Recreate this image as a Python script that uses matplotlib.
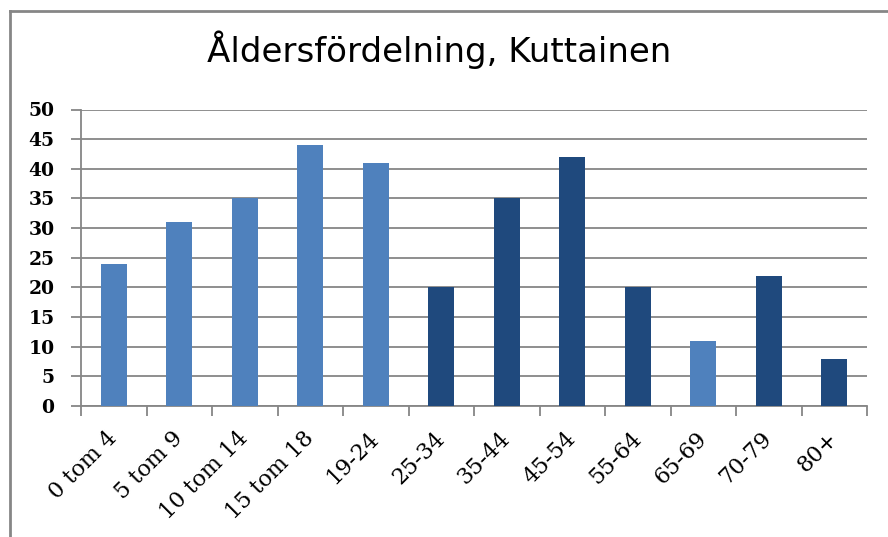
import matplotlib
matplotlib.use("Agg")
import numpy as np
from matplotlib import pyplot as plt
from matplotlib import transforms
from matplotlib.lines import Line2D

categories = ["0 tom 4", "5 tom 9", "10 tom 14", "15 tom 18", "19-24", "25-34",
              "35-44", "45-54", "55-64", "65-69", "70-79", "80+"]
counts = [24, 31, 35, 44, 41, 20, 35, 42, 20, 11, 22, 8]
shade = ["light", "light", "light", "light", "light", "dark",
         "dark", "dark", "dark", "light", "dark", "dark"]
yticks = [0, 5, 10, 15, 20, 25, 30, 35, 40, 45, 50]

palette = {"light": "#4F81BD", "dark": "#1F497D"}
grey = "#868686"

fig = plt.figure(figsize=(8.88, 5.37), dpi=100)
ax = fig.add_axes([81 / 888, 1 - 406 / 537, (867 - 81) / 888, (406 - 109.5) / 537])

x = np.arange(len(categories))
ax.bar(x, counts, width=0.4, color=[palette[s] for s in shade], zorder=3)

ax.set_xlim(-0.5, len(categories) - 0.5)
ax.set_ylim(0, 50)
ax.set_yticks(yticks)
ax.set_yticklabels([str(v) for v in yticks], family="DejaVu Serif", fontsize=13.5,
                   fontweight="bold")
ax.yaxis.grid(True, color=grey, linewidth=1.3, zorder=0)

# ticks at category boundaries, labels at centers
ax.set_xticks(np.arange(len(categories) + 1) - 0.5)
ax.set_xticklabels([])
ax.set_xticks(x, minor=True)
labels = ax.set_xticklabels(categories, minor=True, rotation=45, ha="right", va="center",
                            rotation_mode="anchor", family="DejaVu Serif", fontsize=16)
shift = transforms.ScaledTranslation(5 / 100, 0, fig.dpi_scale_trans)
for lab in labels:
    lab.set_transform(lab.get_transform() + shift)
ax.tick_params(axis="x", which="minor", length=0, pad=21)
ax.tick_params(axis="x", which="major", length=7, width=1.3, color=grey)
ax.tick_params(axis="y", length=7, width=1.3, color=grey, pad=12)

for side in ["top", "right"]:
    ax.spines[side].set_visible(False)
for side in ["left", "bottom"]:
    ax.spines[side].set_color(grey)
    ax.spines[side].set_linewidth(1.3)

fig.text(439 / 888, 1 - 50 / 537, "Åldersfördelning, Kuttainen", ha="center", va="center",
         family="DejaVu Sans", fontsize=24.5)

# outer chart border (cropped: only top and left visible)
fig.add_artist(Line2D([9.5 / 888, 9.5 / 888], [0, 1 - 10.5 / 537], transform=fig.transFigure,
                      color=grey, linewidth=2))
fig.add_artist(Line2D([9.5 / 888, 1], [1 - 10.5 / 537, 1 - 10.5 / 537], transform=fig.transFigure,
                      color=grey, linewidth=2))

fig.savefig("out.png", dpi=100)
